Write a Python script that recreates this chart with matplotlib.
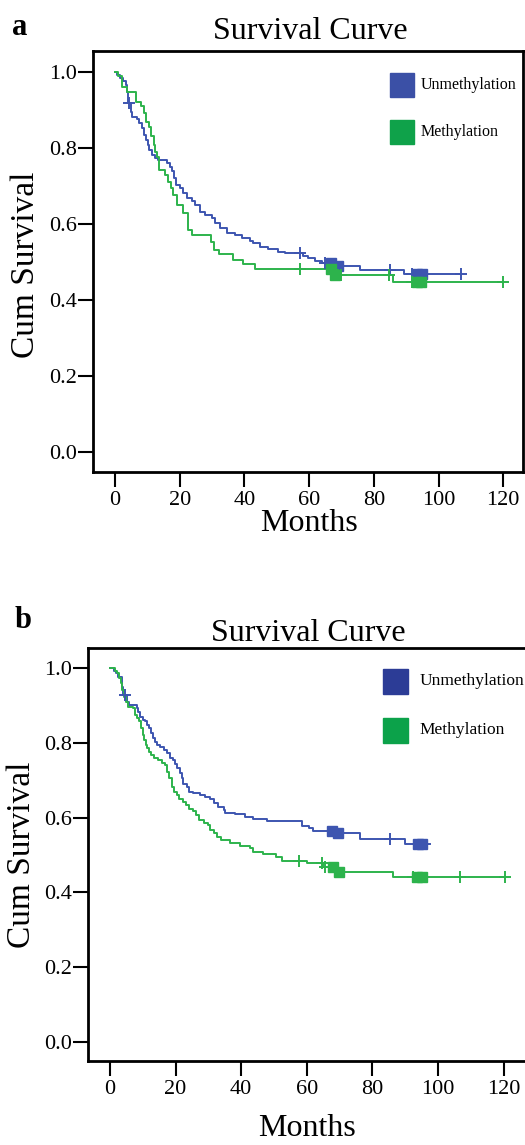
import numpy as np
import matplotlib
matplotlib.use("Agg")
import matplotlib.pyplot as plt

plt.rcParams['font.family'] = ['Liberation Serif', 'DejaVu Serif']

# ---------------- data ----------------
group_labels = ["Unmethylation", "Methylation"]
x_ticks = [0, 20, 40, 60, 80, 100, 120]
y_ticks = [0.0, 0.2, 0.4, 0.6, 0.8, 1.0]

# Panel a - Unmethylation
a_unm_t = [0.6, 1.5, 2.6, 3.3, 3.8, 4.1, 4.8, 5.4, 6.7, 7.5, 8.2, 9.1, 9.5, 10.1, 10.6, 11.3,
           12.4, 13.4, 16.0, 17.0, 17.7, 18.2, 18.9, 20.1, 21.1, 22.2, 23.7, 24.7, 26.3, 27.8,
           29.9, 30.9, 32.5, 34.5, 37.1, 39.1, 41.7, 42.8, 44.8, 47.4, 50.5, 52.6, 58.2, 59.8,
           61.8, 63.9, 68.0, 75.7, 89.3]
a_unm_s = [0.993, 0.983, 0.977, 0.966, 0.948, 0.918, 0.895, 0.882, 0.875, 0.865, 0.852, 0.834,
           0.821, 0.808, 0.795, 0.782, 0.773, 0.768, 0.760, 0.751, 0.738, 0.720, 0.703, 0.694,
           0.681, 0.668, 0.659, 0.650, 0.632, 0.624, 0.615, 0.602, 0.589, 0.576, 0.571, 0.562,
           0.556, 0.549, 0.540, 0.533, 0.527, 0.523, 0.516, 0.510, 0.503, 0.498, 0.488, 0.479,
           0.468]
a_unm_end = 106.9
a_unm_cens = [4.4, 57.2, 64.9, 85.0, 91.7, 106.9]
a_unm_blocks = [66.8, 68.8, 93.3, 94.8]

# Panel a - Methylation
a_met_t = [0.9, 2.1, 3.8, 6.4, 7.9, 9.1, 9.5, 10.5, 11.1, 11.9, 12.4, 12.9, 13.6, 15.3, 16.3,
           17.3, 18.0, 19.1, 21.1, 22.5, 23.9, 29.7, 30.7, 32.2, 36.6, 39.7, 43.3, 67.3, 85.8]
a_met_s = [0.989, 0.961, 0.946, 0.922, 0.909, 0.891, 0.869, 0.856, 0.830, 0.808, 0.790, 0.777,
           0.742, 0.729, 0.711, 0.694, 0.676, 0.650, 0.628, 0.585, 0.571, 0.553, 0.532, 0.520,
           0.505, 0.494, 0.481, 0.466, 0.446]
a_met_end = 120.0
a_met_cens = [57.2, 69.0, 69.8, 84.8, 91.9, 120.0]
a_met_blocks = [66.8, 67.9, 93.3, 94.6]

# Panel b - Unmethylation
b_unm_t = [1.2, 1.8, 2.5, 3.6, 4.1, 5.3, 5.9, 8.1, 8.6, 9.2, 10.0, 10.7, 11.4, 12.0, 12.4, 13.0,
           13.7, 14.2, 15.2, 16.5, 17.5, 18.3, 19.1, 19.8, 20.5, 21.3, 21.9, 22.4, 23.4, 24.2,
           25.4, 27.4, 29.0, 30.5, 31.7, 33.0, 34.6, 35.1, 38.1, 41.2, 43.7, 47.8, 58.6, 60.5,
           62.0, 68.3, 76.2, 89.9]
b_unm_s = [0.993, 0.986, 0.977, 0.950, 0.928, 0.910, 0.901, 0.892, 0.883, 0.870, 0.861, 0.857,
           0.848, 0.839, 0.825, 0.812, 0.803, 0.794, 0.790, 0.781, 0.772, 0.759, 0.754, 0.743,
           0.732, 0.718, 0.705, 0.691, 0.683, 0.669, 0.665, 0.660, 0.656, 0.649, 0.638, 0.629,
           0.620, 0.613, 0.609, 0.602, 0.596, 0.591, 0.578, 0.571, 0.564, 0.558, 0.543, 0.529]
b_unm_end = 97.5
b_unm_cens = [4.6, 85.4]
b_unm_blocks = [67.6, 69.4, 93.8, 95.2]

# Panel b - Methylation
b_met_t = [1.6, 2.0, 2.8, 3.3, 3.8, 4.3, 4.9, 5.6, 6.9, 7.6, 8.1, 8.9, 9.6, 10.0, 10.4, 10.9,
           11.4, 12.0, 12.5, 13.4, 14.7, 15.8, 16.8, 17.5, 18.1, 18.8, 19.5, 20.3, 21.1, 22.2,
           23.2, 24.2, 25.4, 26.2, 27.0, 28.5, 30.0, 30.5, 31.7, 32.5, 33.8, 36.6, 39.6, 42.7,
           43.7, 46.7, 50.6, 52.3, 60.0, 65.0, 69.0, 86.4]
b_met_s = [0.993, 0.986, 0.972, 0.959, 0.941, 0.923, 0.910, 0.897, 0.892, 0.874, 0.865, 0.857,
           0.839, 0.821, 0.807, 0.794, 0.785, 0.776, 0.767, 0.758, 0.754, 0.747, 0.741, 0.723,
           0.705, 0.682, 0.669, 0.660, 0.651, 0.642, 0.633, 0.624, 0.618, 0.607, 0.593, 0.586,
           0.580, 0.567, 0.558, 0.549, 0.540, 0.531, 0.524, 0.518, 0.509, 0.503, 0.494, 0.484,
           0.478, 0.467, 0.455, 0.442]
b_met_end = 120.5
b_met_cens = [57.7, 64.5, 65.4, 92.2, 106.7, 120.5]
b_met_blocks = [68.0, 69.8, 93.6, 95.0]

# ---------------- styling ----------------
W, H = 525, 1145
BLUE = "#3d55b0"
GREEN = "#2db34c"
LEG_BLUE_A = "#3b50a6"
LEG_GREEN_A = "#0fa24a"
LEG_BLUE_B = "#2c3c96"
LEG_GREEN_B = "#0ca24a"

fig = plt.figure(figsize=(W / 100, H / 100), dpi=100)


def px_axes(left, right, top, bottom):
    return fig.add_axes([left / W, 1 - bottom / H, (right - left) / W, (bottom - top) / H])


def step_value(t, s, x):
    t = np.asarray(t)
    s = np.asarray(s)
    idx = np.searchsorted(t, x, side='right') - 1
    vals = np.where(idx >= 0, s[np.clip(idx, 0, None)], 1.0)
    return vals


def draw_curve(ax, t, s, end, cens, blocks, color):
    xs = np.r_[0.0, t, end]
    ys = np.r_[1.0, s, s[-1]]
    ax.step(xs, ys, where='post', color=color, lw=1.4, zorder=3)
    cens = np.asarray(cens)
    ax.plot(cens, step_value(t, s, cens), ls='none', marker='+', ms=9, mew=1.4,
            color=color, zorder=4)
    blocks = np.asarray(blocks)
    ax.plot(blocks, step_value(t, s, blocks), ls='none', marker='s', ms=7.5,
            color=color, zorder=4)


def style_axes(ax, xlim, ylim):
    ax.set_xlim(*xlim)
    ax.set_ylim(*ylim)
    ax.set_xticks(x_ticks)
    ax.set_yticks(y_ticks)
    ax.set_yticklabels([f"{v:.1f}" for v in y_ticks])
    for sp in ax.spines.values():
        sp.set_linewidth(2.0)
        sp.set_color("black")
    ax.tick_params(axis='both', direction='out', length=10.5, width=1.5, labelsize=16,
                   colors='black')
    ax.tick_params(axis='y', pad=1)
    ax.tick_params(axis='x', pad=3)


def legend_manual(ax, xs, ys, xt, colors, fs, ms):
    for y, c, lab in zip(ys, colors, group_labels):
        ax.plot([xs], [y], marker='s', ms=ms, color=c, ls='none', transform=ax.transAxes,
                clip_on=False)
        ax.text(xt, y, lab, transform=ax.transAxes, fontsize=fs, va='center', ha='left')


# ---------------- panel a ----------------
axA = px_axes(93, 523, 51, 472)
draw_curve(axA, a_unm_t, a_unm_s, a_unm_end, a_unm_cens, a_unm_blocks, BLUE)
draw_curve(axA, a_met_t, a_met_s, a_met_end, a_met_cens, a_met_blocks, GREEN)
style_axes(axA, (-6.8, 126.1), (-0.053, 1.055))
legend_manual(axA, 0.7186, [0.920, 0.808], 0.762, [LEG_BLUE_A, LEG_GREEN_A], 11.5, 17.5)

fig.text(310 / W, 1 - 39 / H, "Survival Curve", ha='center', va='baseline', fontsize=23)
fig.text(12 / W, 1 - 35 / H, "a", ha='left', va='baseline', fontsize=22, fontweight='bold')
fig.text(309 / W, 1 - 531 / H, "Months", ha='center', va='baseline', fontsize=23)
fig.text(26 / W, 1 - 265 / H, "Cum Survival", ha='center', va='center', rotation=90,
         fontsize=24)

# ---------------- panel b ----------------
axB = px_axes(88, 530, 648, 1061)
draw_curve(axB, b_unm_t, b_unm_s, b_unm_end, b_unm_cens, b_unm_blocks, BLUE)
draw_curve(axB, b_met_t, b_met_s, b_met_end, b_met_cens, b_met_blocks, GREEN)
style_axes(axB, (-6.7, 128.0), (-0.051, 1.0535))
legend_manual(axB, 0.6946, [0.920, 0.8015], 0.751, [LEG_BLUE_B, LEG_GREEN_B], 12.5, 18)

fig.text(308 / W, 1 - 641 / H, "Survival Curve", ha='center', va='baseline', fontsize=23)
fig.text(15 / W, 1 - 628 / H, "b", ha='left', va='baseline', fontsize=22, fontweight='bold')
fig.text(307 / W, 1 - 1136 / H, "Months", ha='center', va='baseline', fontsize=23)
fig.text(22 / W, 1 - 855 / H, "Cum Survival", ha='center', va='center', rotation=90,
         fontsize=24)

fig.savefig("out.png", dpi=100)
